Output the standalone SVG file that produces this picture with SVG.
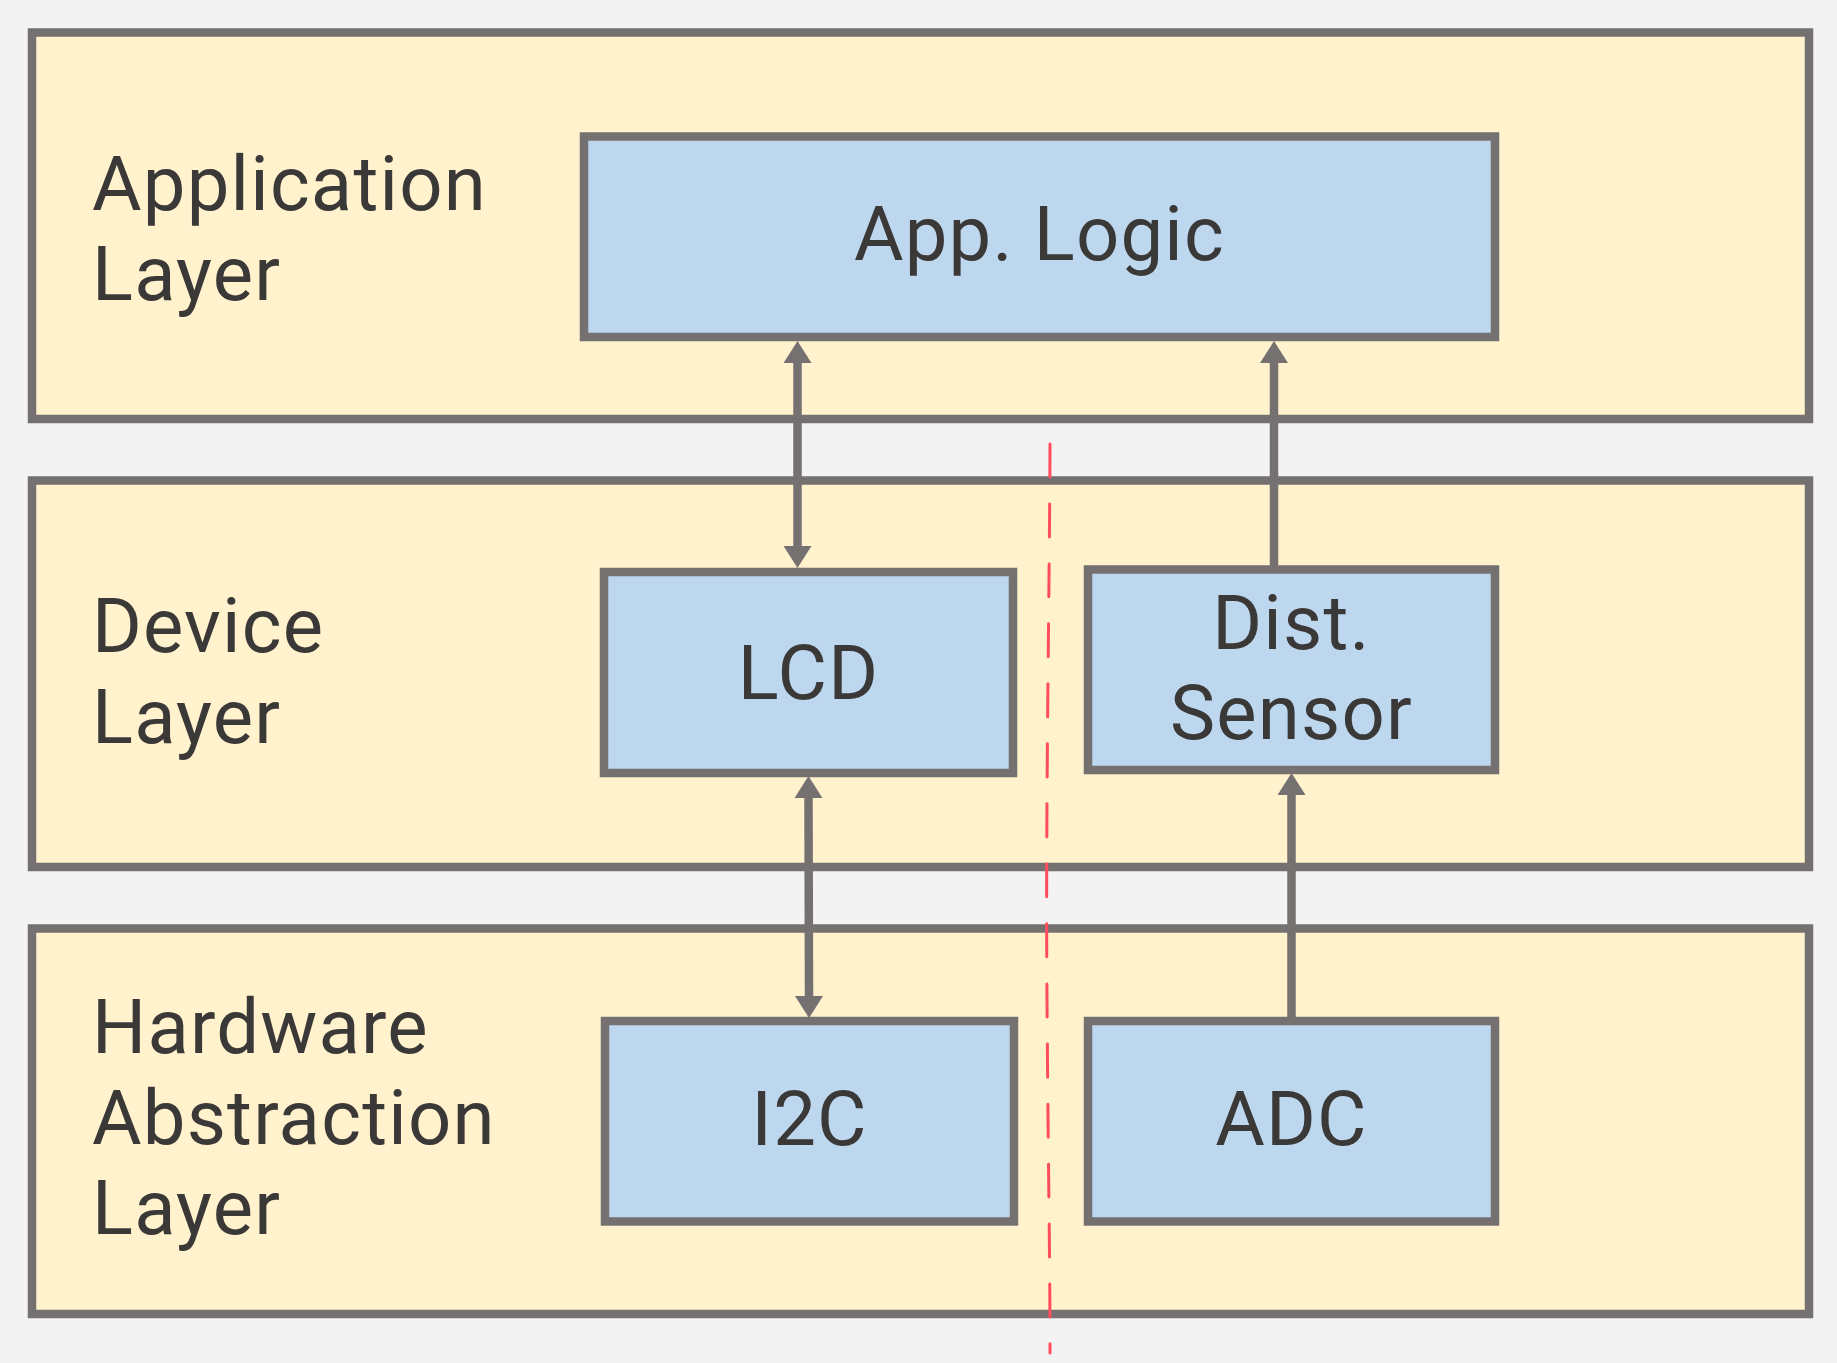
<svg xmlns="http://www.w3.org/2000/svg" width="1837" height="1363" viewBox="0 0 1837 1363">
<defs>
<style>
.layer{fill:#fff2cc;stroke:#757171;stroke-width:8.5}
.node{fill:#bdd7ee;stroke:#757171;stroke-width:8.5}
.t{font-family:Roboto,"Open Sans",sans-serif;font-size:76px;letter-spacing:1.2px;fill:#3b3838}
.c{text-anchor:middle}
.conn{stroke:#757171;stroke-width:8.5;fill:none}
.sep{stroke:#ff4d5e;stroke-width:3;fill:none;stroke-dasharray:33 27;stroke-linecap:round}
</style>
<marker id="ah" markerUnits="userSpaceOnUse" markerWidth="22" markerHeight="28" refX="0" refY="14" orient="auto-start-reverse" viewBox="0 0 22 28">
<path d="M0,0 L22,14 L0,28 z" fill="#757171"/>
</marker>
</defs>
<rect width="1837" height="1363" fill="#f3f3f3"/>
<g id="layer-app">
<rect class="layer" x="32" y="32.5" width="1777" height="386.5"/>
<text class="t" x="92" y="210">Application<tspan x="92" dy="90">Layer</tspan></text>
</g>
<g id="layer-device">
<rect class="layer" x="32" y="480.5" width="1777" height="386.5"/>
<text class="t" x="92" y="652">Device<tspan x="92" dy="91">Layer</tspan></text>
</g>
<g id="layer-hal">
<rect class="layer" x="32" y="928.5" width="1777" height="385.5"/>
<text class="t" x="92" y="1053">Hardware<tspan x="92" dy="91">Abstraction</tspan><tspan x="92" dy="90">Layer</tspan></text>
</g>
<g id="node-app-logic">
<rect class="node" x="584" y="136.5" width="911" height="200.5"/>
<text class="t c" x="1039.5" y="260">App. Logic</text>
</g>
<g id="node-lcd">
<rect class="node" x="604" y="572" width="409" height="201"/>
<text class="t c" x="808.5" y="699">LCD</text>
</g>
<g id="node-dist-sensor">
<rect class="node" x="1088" y="569.5" width="407" height="200.5"/>
<text class="t c" x="1291.5" y="649">Dist.<tspan x="1291.5" dy="89.5">Sensor</tspan></text>
</g>
<g id="node-i2c">
<rect class="node" x="605" y="1021" width="409" height="200.5"/>
<text class="t c" x="809.5" y="1145">I2C</text>
</g>
<g id="node-adc">
<rect class="node" x="1088" y="1021" width="407" height="200.5"/>
<text class="t c" x="1291.5" y="1145">ADC</text>
</g>
<g id="connectors">
<line class="conn" x1="797.5" y1="363" x2="797.5" y2="546" marker-start="url(#ah)" marker-end="url(#ah)"/>
<line class="conn" x1="1274" y1="566" x2="1274" y2="363" marker-end="url(#ah)"/>
<line class="conn" x1="808.5" y1="798" x2="809" y2="996" marker-start="url(#ah)" marker-end="url(#ah)"/>
<line class="conn" x1="1291.5" y1="1017" x2="1291.5" y2="795" marker-end="url(#ah)"/>
</g>
<g id="separator">
<path class="sep" d="M1050,444 C1049.5,600 1045.5,800 1047,1000 S1050,1250 1050,1353"/>
</g>
</svg>
